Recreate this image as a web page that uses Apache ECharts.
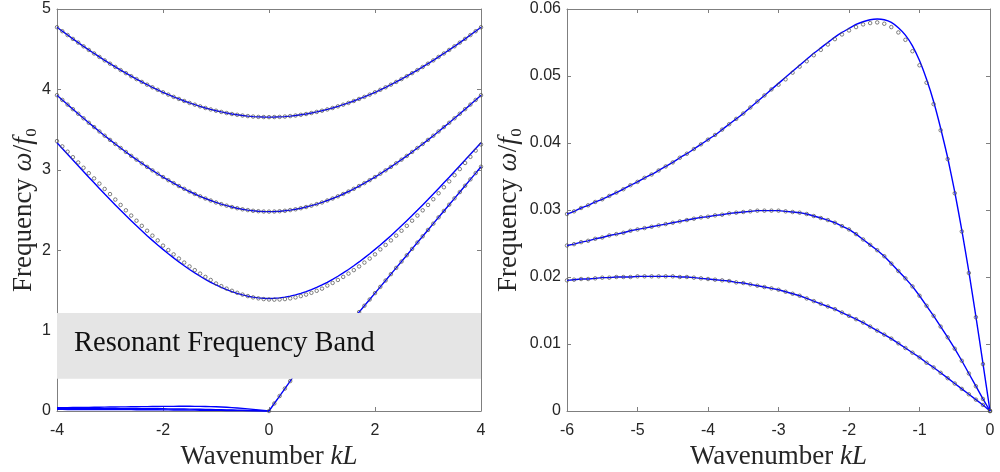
<!DOCTYPE html>
<html>
<head>
<meta charset="utf-8">
<script src="https://cdn.jsdelivr.net/npm/echarts@6/dist/echarts.min.js"></script>
<style>
  html, body { margin: 0; padding: 0; background: #fff; }
  #chart { width: 1000px; height: 472px; }
</style>
</head>
<body>
<div id="chart"></div>
<script>
// wavenumber grids
const kLeft = [-4,-3.9,-3.8,-3.7,-3.6,-3.5,-3.4,-3.3,-3.2,-3.1,-3,-2.9,-2.8,-2.7,-2.6,-2.5,-2.4,-2.3,-2.2,-2.1,
  -2,-1.9,-1.8,-1.7,-1.6,-1.5,-1.4,-1.3,-1.2,-1.1,-1,-0.9,-0.8,-0.7,-0.6,-0.5,-0.4,-0.3,-0.2,-0.1,
  0,0.1,0.2,0.3,0.4,0.5,0.6,0.7,0.8,0.9,1,1.1,1.2,1.3,1.4,1.5,1.6,1.7,1.8,1.9,
  2,2.1,2.2,2.3,2.4,2.5,2.6,2.7,2.8,2.9,3,3.1,3.2,3.3,3.4,3.5,3.6,3.7,3.8,3.9,4];
const kRight = [-6,-5.9,-5.8,-5.7,-5.6,-5.5,-5.4,-5.3,-5.2,-5.1,-5,-4.9,-4.8,-4.7,-4.6,-4.5,-4.4,-4.3,-4.2,-4.1,
  -4,-3.9,-3.8,-3.7,-3.6,-3.5,-3.4,-3.3,-3.2,-3.1,-3,-2.9,-2.8,-2.7,-2.6,-2.5,-2.4,-2.3,-2.2,-2.1,
  -2,-1.9,-1.8,-1.7,-1.6,-1.5,-1.4,-1.3,-1.2,-1.1,-1,-0.9,-0.8,-0.7,-0.6,-0.5,-0.4,-0.3,-0.2,-0.1,0];
const kAcousticLow = [0, 0.1, 0.2, 0.3, 0.4, 0.5];
const kAcousticHigh = [1.6,1.7,1.8,1.9,2,2.1,2.2,2.3,2.4,2.5,2.6,2.7,2.8,2.9,3,3.1,3.2,3.3,3.4,3.5,3.6,3.7,3.8,3.9,4];

// left panel, optical branches
const band1 = [4.773,4.724,4.676,4.628,4.582,4.536,4.491,4.447,4.404,4.361,4.320,4.279,4.240,4.202,4.164,4.128,4.093,4.059,4.026,3.995,
  3.964,3.935,3.907,3.881,3.856,3.832,3.810,3.789,3.769,3.751,3.735,3.720,3.706,3.694,3.684,3.675,3.668,3.662,3.658,3.656,
  3.655,
  3.656,3.658,3.662,3.668,3.675,3.684,3.694,3.706,3.720,3.735,3.751,3.769,3.789,3.810,3.832,3.856,3.881,3.907,3.935,3.964,
  3.995,4.026,4.059,4.093,4.128,4.164,4.202,4.240,4.279,4.320,4.361,4.404,4.447,4.491,4.536,4.582,4.628,4.676,4.724,4.773];
const band2 = [3.928,3.869,3.811,3.754,3.697,3.641,3.585,3.531,3.477,3.424,3.372,3.321,3.271,3.222,3.173,3.126,3.081,3.036,2.993,2.951,
  2.910,2.871,2.834,2.798,2.763,2.730,2.699,2.670,2.643,2.618,2.594,2.573,2.554,2.537,2.522,2.509,2.499,2.490,2.485,2.481,
  2.480,
  2.481,2.485,2.490,2.499,2.509,2.522,2.537,2.554,2.573,2.594,2.618,2.643,2.670,2.699,2.730,2.763,2.798,2.834,2.871,2.910,
  2.951,2.993,3.036,3.081,3.126,3.173,3.222,3.271,3.321,3.372,3.424,3.477,3.531,3.585,3.641,3.697,3.754,3.811,3.869,3.928];
const band3 = [3.336,3.265,3.193,3.121,3.050,2.979,2.907,2.838,2.768,2.698,2.630,2.563,2.496,2.431,2.367,2.303,2.242,2.181,2.122,2.065,
  2.010,1.956,1.904,1.854,1.806,1.760,1.717,1.676,1.638,1.601,1.568,1.537,1.510,1.485,1.463,1.444,1.428,1.416,1.407,1.402,
  1.400,
  1.402,1.407,1.416,1.428,1.444,1.463,1.485,1.510,1.537,1.568,1.601,1.638,1.676,1.717,1.760,1.806,1.854,1.904,1.956,2.010,
  2.065,2.122,2.181,2.242,2.303,2.367,2.431,2.496,2.563,2.630,2.698,2.768,2.838,2.907,2.979,3.050,3.121,3.193,3.265,3.336];
const band3Dots = [3.357,3.291,3.225,3.157,3.091,3.025,2.958,2.893,2.828,2.762,2.698,2.630,2.563,2.496,2.431,2.367,2.303,2.242,2.181,2.122,
  2.057,2.002,1.948,1.896,1.846,1.798,1.752,1.709,1.668,1.630,1.586,1.553,1.522,1.495,1.470,1.448,1.429,1.413,1.401,1.392,
  1.387,
  1.385,1.387,1.392,1.401,1.413,1.429,1.448,1.470,1.495,1.522,1.560,1.593,1.630,1.668,1.709,1.752,1.798,1.846,1.896,1.948,
  2.010,2.065,2.122,2.181,2.242,2.303,2.367,2.431,2.496,2.563,2.634,2.708,2.783,2.856,2.933,3.009,3.085,3.161,3.239,3.315];
const acousticLow = [0, 0.093, 0.186, 0.279, 0.372, 0.465];
const acousticHigh = [1.151,1.230,1.309,1.387,1.466,1.544,1.623,1.702,1.780,1.859,1.937,2.016,2.095,2.173,2.252,2.330,2.409,2.488,2.566,2.645,2.723,2.802,2.881,2.959,3.038];

// right panel, low-frequency branches
const lowA = [0.0294,0.0298,0.0303,0.0307,0.0312,0.0316,0.0321,0.0326,0.0331,0.0337,
  0.0342,0.0348,0.0353,0.0359,0.0365,0.0371,0.0378,0.0384,0.0391,0.0398,
  0.0405,0.0412,0.0420,0.0428,0.0436,0.0444,0.0453,0.0462,0.0471,0.0480,
  0.0489,0.0498,0.0507,0.0516,0.0525,0.0534,0.0542,0.0550,0.0558,0.0565,
  0.0571,0.0577,0.0581,0.0584,0.0585,0.0584,0.0580,0.0572,0.0561,0.0545,
  0.0523,0.0495,0.0462,0.0422,0.0378,0.0327,0.0270,0.0208,0.0141,0.0071,0];
const lowADots = [0.0294,0.0298,0.0303,0.0307,0.0312,0.0316,0.0321,0.0326,0.0331,0.0337,
  0.0342,0.0348,0.0353,0.0359,0.0365,0.0371,0.0378,0.0384,0.0391,0.0398,
  0.0405,0.0412,0.0420,0.0428,0.0436,0.0444,0.0453,0.0462,0.0471,0.0480,
  0.0487,0.0495,0.0505,0.0514,0.0522,0.0531,0.0539,0.0547,0.0555,0.0562,
  0.0568,0.0573,0.0577,0.0579,0.0580,0.0578,0.0573,0.0565,0.0554,0.0537,
  0.0516,0.0490,0.0458,0.0419,0.0376,0.0325,0.0268,0.0206,0.0140,0.0070,0];
const lowB = [0.0247,0.0249,0.0252,0.0254,0.0257,0.0259,0.0262,0.0264,0.0266,0.0269,
  0.0271,0.0273,0.0275,0.0277,0.0279,0.0281,0.0283,0.0285,0.0287,0.0289,
  0.0290,0.0292,0.0293,0.0295,0.0296,0.0297,0.0298,0.0299,0.0299,0.0299,
  0.0299,0.0298,0.0297,0.0296,0.0294,0.0291,0.0288,0.0285,0.0281,0.0276,
  0.0271,0.0264,0.0256,0.0248,0.0240,0.0231,0.0220,0.0209,0.0198,0.0186,
  0.0172,0.0157,0.0142,0.0126,0.0110,0.0093,0.0075,0.0056,0.0037,0.0018,0];
const lowC = [0.0195,0.0196,0.0197,0.0197,0.0198,0.0199,0.0199,0.0200,0.0200,0.0200,
  0.0201,0.0201,0.0201,0.0201,0.0201,0.0201,0.0200,0.0200,0.0199,0.0198,
  0.0197,0.0196,0.0195,0.0194,0.0192,0.0191,0.0189,0.0187,0.0185,0.0183,
  0.0181,0.0178,0.0175,0.0172,0.0168,0.0164,0.0160,0.0156,0.0152,0.0147,
  0.0142,0.0137,0.0132,0.0126,0.0120,0.0114,0.0108,0.0101,0.0094,0.0087,
  0.0080,0.0072,0.0065,0.0057,0.0049,0.0041,0.0033,0.0025,0.0017,0.0009,0];

const bandLow = 0.4;
const bandHigh = 1.22;

const BLUE = '#0000ff';
const AXIS = '#7f7f7f';
const TEXT = '#262626';
const SERIF = '"Liberation Serif", "DejaVu Serif", serif';
const SANS = '"Liberation Sans", Arial, sans-serif';

const pairs = (ks, vs) => ks.map((k, i) => [k, vs[i]]);

const chart = echarts.init(document.getElementById('chart'), null, { renderer: 'canvas' });

const nameStyle = {
    fontFamily: SERIF,
    fontSize: 27,
    color: TEXT,
    rich: {
        i: { fontFamily: SERIF, fontSize: 27, fontStyle: 'italic', color: TEXT },
        t: { fontFamily: SERIF, fontSize: 27, color: TEXT },
    },
};

function xAxisPair(gridIndex, min, max, interval) {
    const base = {
        gridIndex,
        type: 'value',
        min,
        max,
        interval,
        axisLine: { onZero: false, lineStyle: { color: AXIS, width: 1 } },
        axisTick: { inside: true, length: 4, lineStyle: { color: AXIS } },
        splitLine: { show: false },
    };
    return [
        {
            ...base,
            position: 'bottom',
            name: '{t|Wavenumber }{i|kL}',
            nameLocation: 'middle',
            nameGap: 29,
            nameTextStyle: nameStyle,
            axisLabel: { color: TEXT, fontSize: 16, fontFamily: SANS, margin: 12 },
        },
        { ...base, position: 'top', axisLabel: { show: false } },
    ];
}

function yAxisPair(gridIndex, min, max, interval, gap) {
    const base = {
        gridIndex,
        type: 'value',
        min,
        max,
        interval,
        axisLine: { onZero: false, lineStyle: { color: AXIS, width: 1 } },
        axisTick: { inside: true, length: 4, lineStyle: { color: AXIS } },
        splitLine: { show: false },
    };
    return [
        {
            ...base,
            position: 'left',
            name: '{t|Frequency }{i|ω}{t|/}{i|f}{t|₀}',
            nameLocation: 'middle',
            nameGap: gap,
            nameTextStyle: nameStyle,
            axisLabel: { color: TEXT, fontSize: 16, fontFamily: SANS, margin: 6 },
        },
        { ...base, position: 'right', axisLabel: { show: false } },
    ];
}

function curve(ks, vs, xi, yi, smooth) {
    return {
        type: 'line',
        xAxisIndex: xi,
        yAxisIndex: yi,
        data: pairs(ks, vs),
        showSymbol: false,
        smooth: smooth || false,
        lineStyle: { color: BLUE, width: 1.4 },
        silent: true,
        z: 2,
    };
}

function dots(ks, vs, xi, yi) {
    return {
        type: 'scatter',
        xAxisIndex: xi,
        yAxisIndex: yi,
        data: pairs(ks, vs),
        symbol: 'circle',
        symbolSize: 3.5,
        itemStyle: { color: 'rgba(255,255,255,0)', borderColor: '#505050', borderWidth: 0.9 },
        silent: true,
        z: 4,
    };
}

const kNeg = kRight.slice(20);

const option = {
    animation: false,
    backgroundColor: '#ffffff',
    grid: [
        { left: 57, top: 9, width: 424, height: 402, outerBoundsMode: 'none' },
        { left: 567, top: 9, width: 423, height: 402, outerBoundsMode: 'none' },
    ],
    xAxis: [...xAxisPair(0, -4, 4, 2), ...xAxisPair(1, -6, 0, 1)],
    yAxis: [...yAxisPair(0, 0, 5, 1, 20), ...yAxisPair(1, 0, 0.06, 0.01, 45)],
    series: [
        // left panel
        curve(kLeft, band1, 0, 0),
        curve(kLeft, band2, 0, 0),
        curve(kLeft, band3, 0, 0),
        curve(kAcousticLow, acousticLow, 0, 0),
        curve(kAcousticHigh, acousticHigh, 0, 0),
        curve(kNeg, lowA.slice(20), 0, 0),
        curve(kNeg, lowB.slice(20), 0, 0),
        curve(kNeg, lowC.slice(20), 0, 0),
        dots(kLeft, band1, 0, 0),
        dots(kLeft, band2, 0, 0),
        dots(kLeft, band3Dots, 0, 0),
        dots(kAcousticLow, acousticLow, 0, 0),
        dots(kAcousticHigh, acousticHigh, 0, 0),
        {
            type: 'line',
            xAxisIndex: 0,
            yAxisIndex: 0,
            data: [[-4, bandLow]],
            showSymbol: false,
            lineStyle: { opacity: 0 },
            silent: true,
            z: 10,
            markArea: {
                silent: true,
                z: 10,
                itemStyle: { color: '#e5e5e5' },
                label: {
                    show: true,
                    position: 'insideLeft',
                    distance: 17,
                    offset: [0, -2],
                    fontFamily: SERIF,
                    fontSize: 28.5,
                    color: '#111',
                },
                data: [[
                    { name: 'Resonant Frequency Band', xAxis: -4, yAxis: bandLow },
                    { xAxis: 4, yAxis: bandHigh },
                ]],
            },
        },
        // right panel
        curve(kRight, lowA, 2, 2, 0.15),
        curve(kRight, lowB, 2, 2),
        curve(kRight, lowC, 2, 2),
        dots(kRight, lowADots, 2, 2),
        dots(kRight, lowB, 2, 2),
        dots(kRight, lowC, 2, 2),
    ],
};

chart.setOption(option);
</script>
</body>
</html>
